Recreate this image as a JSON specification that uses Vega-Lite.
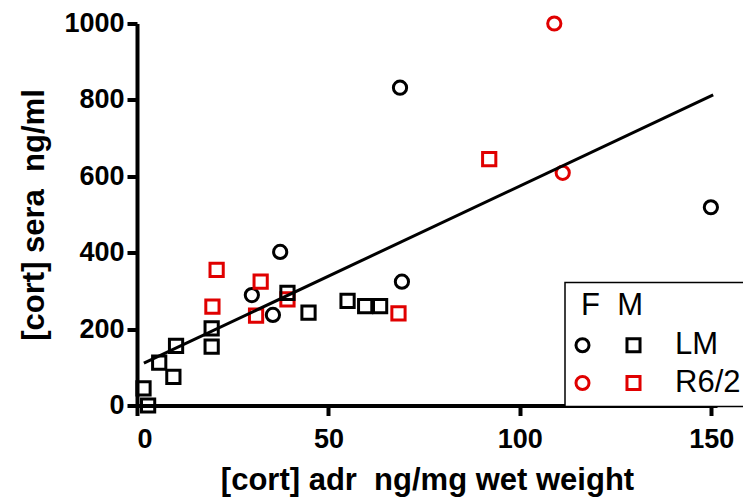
{
  "$schema": "https://vega.github.io/schema/vega-lite/v6.json",
  "width": 580,
  "height": 382,
  "autosize": {"type": "none"},
  "padding": {"left": 137, "top": 23.5, "right": 26, "bottom": 98.5},
  "background": "white",
  "config": {
    "view": {"stroke": null},
    "font": "Liberation Sans",
    "axis": {
      "grid": false,
      "domainColor": "black",
      "domainWidth": 4,
      "tickColor": "black",
      "tickWidth": 4,
      "tickSize": 10,
      "labelFont": "Liberation Sans",
      "labelFontWeight": "bold",
      "labelFontSize": 27,
      "labelColor": "black",
      "titleFont": "Liberation Sans",
      "titleFontWeight": "bold",
      "titleFontSize": 31,
      "titleColor": "black"
    },
    "legend": {
      "orient": "none",
      "legendX": 428,
      "legendY": 259,
      "columns": 2,
      "direction": "horizontal",
      "strokeColor": "black",
      "strokeWidth": 1.5,
      "fillColor": "white",
      "padding": 8,
      "titleFont": "Liberation Sans",
      "titleFontSize": 31,
      "titleFontWeight": "normal",
      "titleColor": "black",
      "titlePadding": 8,
      "labelFont": "Liberation Sans",
      "labelFontSize": 31,
      "labelColor": "black",
      "labelOffset": 26,
      "labelLimit": 0,
      "symbolSize": 170,
      "symbolStrokeWidth": 3,
      "symbolOffset": -6,
      "rowPadding": 6,
      "columnPadding": -8
    }
  },
  "datasets": {
    "points": [
      {"adr": 68.7, "sera": 832, "group": "F LM"},
      {"adr": 37.4, "sera": 402, "group": "F LM"},
      {"adr": 69.2, "sera": 324, "group": "F LM"},
      {"adr": 30.0, "sera": 289, "group": "F LM"},
      {"adr": 35.5, "sera": 237, "group": "F LM"},
      {"adr": 149.9, "sera": 519, "group": "F LM"},
      {"adr": 109.0, "sera": 1000, "group": "F R6/2"},
      {"adr": 111.2, "sera": 609, "group": "F R6/2"},
      {"adr": 20.8, "sera": 355, "group": "M R6/2"},
      {"adr": 19.7, "sera": 259, "group": "M R6/2"},
      {"adr": 32.3, "sera": 324, "group": "M R6/2"},
      {"adr": 31.1, "sera": 235, "group": "M R6/2"},
      {"adr": 39.3, "sera": 278, "group": "M R6/2"},
      {"adr": 68.3, "sera": 241, "group": "M R6/2"},
      {"adr": 92.0, "sera": 645, "group": "M R6/2"},
      {"adr": 1.7, "sera": 45, "group": "M LM"},
      {"adr": 2.9, "sera": 0, "group": "M LM"},
      {"adr": 5.8, "sera": 112, "group": "M LM"},
      {"adr": 9.5, "sera": 75, "group": "M LM"},
      {"adr": 10.2, "sera": 156, "group": "M LM"},
      {"adr": 19.5, "sera": 202, "group": "M LM"},
      {"adr": 19.5, "sera": 154, "group": "M LM"},
      {"adr": 39.3, "sera": 295, "group": "M LM"},
      {"adr": 44.8, "sera": 243, "group": "M LM"},
      {"adr": 55.0, "sera": 274, "group": "M LM"},
      {"adr": 59.6, "sera": 260, "group": "M LM"},
      {"adr": 63.5, "sera": 260, "group": "M LM"}
    ],
    "fit": [
      {"adr": 1.8, "sera": 111},
      {"adr": 150.5, "sera": 813}
    ]
  },
  "layer": [
    {
      "data": {"name": "points"},
      "mark": {"type": "point", "filled": false, "strokeWidth": 3, "size": 175, "opacity": 1},
      "encoding": {
        "x": {
          "field": "adr", "type": "quantitative",
          "scale": {"domain": [0, 151.5], "nice": false, "zero": false},
          "axis": {"values": [0, 50, 100, 150], "labelPadding": 11, "titlePadding": 13,
                   "title": "[cort] adr \u00a0ng/mg wet weight"}
        },
        "y": {
          "field": "sera", "type": "quantitative",
          "scale": {"domain": [0, 1000], "nice": false},
          "axis": {"values": [0, 200, 400, 600, 800, 1000], "format": "d", "labelPadding": 3, "titlePadding": 13,
                   "title": "[cort] sera \u00a0ng/ml"}
        },
        "color": {
          "field": "group", "type": "nominal",
          "scale": {"domain": ["F LM", "M LM", "F R6/2", "M R6/2"], "range": ["black", "black", "#e00000", "#e00000"]},
          "title": "F\u00a0\u00a0M",
          "legend": {
            "labelExpr": "datum.label == 'M LM' ? '\u2002LM' : (datum.label == 'M R6/2' ? '\u2002R6/2' : '')",
            "encoding": {"title": {"dx": {"value": 8}}}
          }
        },
        "shape": {
          "field": "group", "type": "nominal",
          "scale": {"domain": ["F LM", "M LM", "F R6/2", "M R6/2"], "range": ["circle", "square", "circle", "square"]},
          "title": "F\u00a0\u00a0M",
          "legend": {
            "labelExpr": "datum.label == 'M LM' ? '\u2002LM' : (datum.label == 'M R6/2' ? '\u2002R6/2' : '')",
            "encoding": {"title": {"dx": {"value": 8}}}
          }
        }
      }
    },
    {
      "data": {"name": "fit"},
      "mark": {"type": "line", "color": "black", "strokeWidth": 3},
      "encoding": {
        "x": {"field": "adr", "type": "quantitative"},
        "y": {"field": "sera", "type": "quantitative"}
      }
    }
  ]
}
